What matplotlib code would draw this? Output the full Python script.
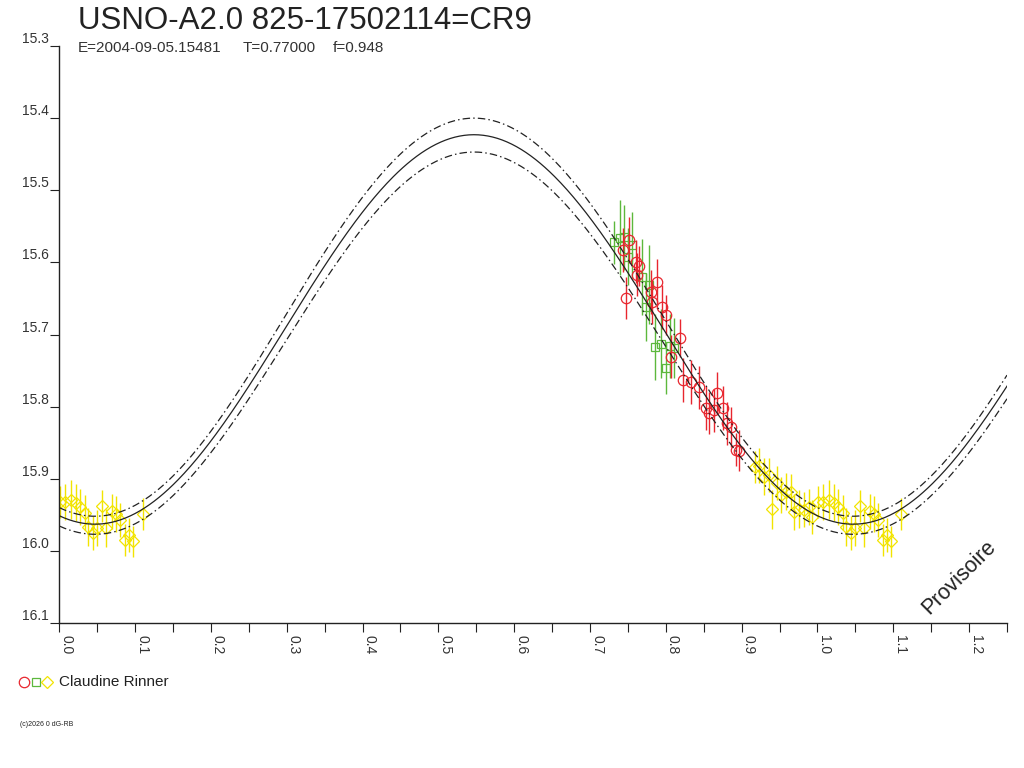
import numpy as np
import matplotlib.pyplot as plt

plt.rcParams['font.family'] = ['Liberation Sans', 'DejaVu Sans']

# fitted light curve (mag = mean + amp * cos(2pi (phase - phase_min)))
PHASE_MIN = 0.047
FIT_MID = (15.693, 0.270)
FIT_BRIGHT = (15.676, 0.276)
FIT_FAINT = (15.712, 0.265)

# observations (phase, magnitude, error) -- Claudine Rinner
red_phase = [0.743, 0.752, 0.761, 0.765, 0.762, 0.748, 0.781, 0.782, 0.789, 0.795,
             0.800, 0.807, 0.819, 0.822, 0.833, 0.844, 0.853, 0.857, 0.864, 0.867,
             0.876, 0.881, 0.886, 0.893, 0.897]
red_mag = [15.583, 15.569, 15.599, 15.605, 15.617, 15.649, 15.641, 15.655, 15.627, 15.662,
           15.673, 15.731, 15.705, 15.763, 15.766, 15.773, 15.802, 15.809, 15.805, 15.781,
           15.802, 15.823, 15.828, 15.860, 15.861]
red_err = [0.030, 0.032, 0.030, 0.028, 0.030, 0.029, 0.030, 0.031, 0.031, 0.030,
           0.028, 0.030, 0.026, 0.031, 0.030, 0.030, 0.030, 0.029, 0.030, 0.029,
           0.030, 0.030, 0.028, 0.023, 0.028]

green_phase = [0.732, 0.739, 0.745, 0.750, 0.756, 0.769, 0.778, 0.774, 0.786, 0.794,
               0.800, 0.805, 0.811]
green_mag = [15.572, 15.566, 15.565, 15.592, 15.576, 15.620, 15.631, 15.662, 15.717, 15.713,
             15.746, 15.716, 15.719]
green_err = [0.030, 0.052, 0.045, 0.040, 0.046, 0.053, 0.055, 0.047, 0.046, 0.048,
             0.036, 0.044, 0.042]

yellow_phase = [0.917, 0.923, 0.930, 0.936, 0.940, 0.947, 0.952, 0.959, 0.965, 0.969,
                0.976, 0.982, 0.989, 0.993,
                0.001, 0.007, 0.015, 0.022, 0.027, 0.034, 0.038, 0.044, 0.050, 0.056,
                0.062, 0.069, 0.075, 0.080, 0.087, 0.092, 0.097, 0.110]
yellow_mag = [15.884, 15.882, 15.897, 15.895, 15.942, 15.906, 15.922, 15.918, 15.918, 15.946,
              15.942, 15.943, 15.939, 15.953,
              15.932, 15.932, 15.929, 15.933, 15.939, 15.947, 15.967, 15.975, 15.968, 15.938,
              15.968, 15.945, 15.949, 15.957, 15.985, 15.978, 15.987, 15.949]
yellow_err = [0.022, 0.024, 0.026, 0.024, 0.027, 0.024, 0.025, 0.026, 0.024, 0.025,
              0.026, 0.024, 0.025, 0.024,
              0.022, 0.025, 0.027, 0.026, 0.025, 0.024, 0.026, 0.024, 0.025, 0.022,
              0.026, 0.024, 0.025, 0.024, 0.022, 0.024, 0.022, 0.022]

XMAX = 1.25


def fold(phase, mag, err):
    # points near phase 0 are shown a second time one cycle later
    p = np.array(phase)
    m = np.array(mag)
    e = np.array(err)
    rep = p + 1 <= XMAX
    return (np.concatenate([p, p[rep] + 1]), np.concatenate([m, m[rep]]),
            np.concatenate([e, e[rep]]))


fig = plt.figure(figsize=(10.24, 7.68), dpi=100)
ax = fig.add_axes([59.3 / 1024, 145 / 768, (1007 - 59.3) / 1024, (623 - 46) / 768])

ph = np.linspace(0, XMAX, 600)
for (mean, amp), ls in [(FIT_BRIGHT, (0, (6, 2.5, 1.2, 2.5))),
                        (FIT_MID, '-'),
                        (FIT_FAINT, (0, (6, 2.5, 1.2, 2.5)))]:
    ax.plot(ph, mean + amp * np.cos(2 * np.pi * (ph - PHASE_MIN)),
            color='#222222', lw=0.9, ls=ls, zorder=3)

series = [(yellow_phase, yellow_mag, yellow_err, '#f2e400', 'D', 6.0),
          (green_phase, green_mag, green_err, '#5cb83c', 's', 6.0),
          (red_phase, red_mag, red_err, '#e8262e', 'o', 7.5)]
for p, m, e, c, mk, ms in series:
    fp, fm, fe = fold(p, m, e)
    ax.errorbar(fp, fm, yerr=fe, fmt='none', ecolor=c, elinewidth=1.0, zorder=2)
    ax.plot(fp, fm, ls='none', marker=mk, ms=ms, mfc='none', mec=c, mew=0.9, zorder=2)

ax.set_xlim(0, XMAX)
ax.set_ylim(16.1, 15.3)
ax.set_xticks(np.arange(0, 1.21, 0.1))
ax.set_xticks(np.arange(0.05, 1.26, 0.1), minor=True)
ax.set_xticklabels(['%.1f' % v for v in np.arange(0, 1.21, 0.1)], rotation=270,
                   ha='left', va='top', rotation_mode='default')
ax.set_yticks(np.arange(15.3, 16.11, 0.1))
ax.set_yticklabels(['%.1f' % v for v in np.arange(15.3, 16.11, 0.1)], va='bottom')
ax.tick_params(which='both', direction='out', length=6.5, width=0.8, color='#222222',
               labelsize=10, labelcolor='#333333', pad=1)
ax.tick_params(axis='x', which='both', pad=2)
for s in ['top', 'right']:
    ax.spines[s].set_visible(False)
for s in ['left', 'bottom']:
    ax.spines[s].set_color('#222222')
    ax.spines[s].set_linewidth(1.0)

fig.text(78 / 1024, 1 - 29 / 768, 'USNO-A2.0 825-17502114=CR9', fontsize=22.5,
         color='#222222', va='baseline', ha='left')
for x, s in [(78, 'E=2004-09-05.15481'), (243, 'T=0.77000'), (333, 'f=0.948')]:
    fig.text(x / 1024, 1 - 52 / 768, s, fontsize=11, color='#333333', va='baseline', ha='left')

fig.text(959 / 1024, 1 - 577 / 768, 'Provisoire', fontsize=15.5, color='#222222',
         rotation=45, ha='center', va='center')

# legend
for x, c, mk, ms in [(24, '#e8262e', 'o', 7.5), (36, '#5cb83c', 's', 6.0),
                     (47, '#f2e400', 'D', 6.0)]:
    ax.plot([x / 1024], [1 - 682 / 768], transform=fig.transFigure, clip_on=False,
            marker=mk, ms=ms, mfc='none', mec=c, mew=0.9, ls='none')
fig.text(59 / 1024, 1 - 682 / 768, 'Claudine Rinner', fontsize=11, color='#222222',
         va='center', ha='left')
fig.text(20 / 1024, 1 - 725 / 768, '(c)2026 0 dG-RB', fontsize=5, color='#222222',
         va='center', ha='left')

fig.savefig('out.png', dpi=100)
